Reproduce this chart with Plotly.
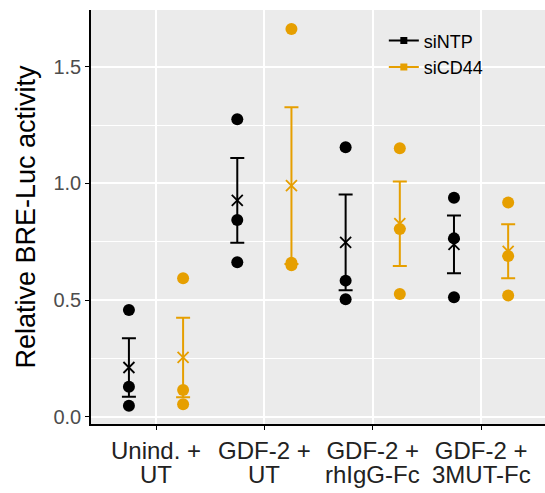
import numpy as np
import plotly.graph_objects as go

categories_line1 = ["Unind. +", "GDF-2 +", "GDF-2 +", "GDF-2 +"]
categories_line2 = ["UT", "UT", "rhIgG-Fc", "3MUT-Fc"]
series_names = ["siNTP", "siCD44"]
siNTP = [[0.458, 0.130, 0.048], [1.275, 0.844, 0.663], [1.155, 0.584, 0.504], [0.939, 0.765, 0.513]]
siCD44 = [[0.594, 0.116, 0.055], [1.662, 0.661, 0.650], [1.151, 0.805, 0.527], [0.919, 0.689, 0.520]]
y_ticks = [0.0, 0.5, 1.0, 1.5]
y_tick_labels = ["0.0", "0.5", "1.0", "1.5"]

colors = ["#000000", "#E69F00"]
offsets = [-0.25, 0.25]
FONT = "Liberation Sans, Arial, Helvetica, sans-serif"
XFONT = 24

cat_pos = np.arange(1, len(categories_line1) + 1)

fig = go.Figure()
for name, data, col, off in zip(series_names, [siNTP, siCD44], colors, offsets):
    arr = np.array(data)
    pos = cat_pos + off
    means = arr.mean(axis=1)
    sem = arr.std(axis=1, ddof=1) / np.sqrt(arr.shape[1])
    # raw points
    fig.add_trace(go.Scatter(
        x=np.repeat(pos, arr.shape[1]), y=arr.flatten(), mode="markers",
        marker=dict(color=col, size=12), showlegend=False, hoverinfo="skip"))
    # mean + SEM
    fig.add_trace(go.Scatter(
        x=pos, y=means, mode="markers", name=name,
        marker=dict(symbol="x-thin", size=11, line=dict(color=col, width=1.8), color=col),
        error_y=dict(type="data", array=sem, visible=True, color=col, thickness=2, width=7),
        showlegend=False))
    # legend entry
    fig.add_trace(go.Scatter(
        x=[None], y=[None], mode="lines+markers", name=name,
        line=dict(color=col, width=2), marker=dict(symbol="square", size=7, color=col)))

# second line of the category labels
for xp, txt in zip(cat_pos, categories_line2):
    fig.add_annotation(x=xp, y=-0.121, xref="x", yref="paper", text=txt,
                       showarrow=False, xanchor="center", yanchor="middle",
                       font=dict(size=XFONT, color="#222222", family=FONT))

fig.update_layout(
    width=545, height=493,
    margin=dict(l=91, r=0, t=10, b=69),
    paper_bgcolor="white", plot_bgcolor="#EBEBEB",
    font=dict(family=FONT, color="black"),
    showlegend=True,
    legend=dict(x=0.645, y=0.97, xanchor="left", yanchor="top",
                bgcolor="rgba(0,0,0,0)", font=dict(size=18, color="black"),
                itemwidth=30, tracegroupgap=0),
)
fig.update_xaxes(
    range=[0.4, 4.59], tickmode="array", tickvals=cat_pos, ticktext=categories_line1,
    showgrid=True, gridcolor="white", gridwidth=1.6, zeroline=False,
    showline=True, linecolor="black", linewidth=1.6,
    ticks="outside", ticklen=4, tickcolor="black", tickwidth=1.2,
    tickfont=dict(size=XFONT, color="#222222"), automargin=False,
)
fig.update_yaxes(
    range=[-0.030, 1.743], tickmode="array", tickvals=y_ticks, ticktext=y_tick_labels,
    showgrid=True, gridcolor="white", gridwidth=1.6, zeroline=False,
    minor=dict(dtick=0.25, tick0=0, showgrid=True, gridcolor="white", gridwidth=0.8),
    showline=True, linecolor="black", linewidth=1.6,
    ticks="outside", ticklen=4, tickcolor="black", tickwidth=1.2,
    tickfont=dict(size=20, color="#4D4D4D"), automargin=False,
    title=dict(text="Relative BRE-Luc activity", font=dict(size=27, color="black"), standoff=10),
)

fig.write_html("out.html")
